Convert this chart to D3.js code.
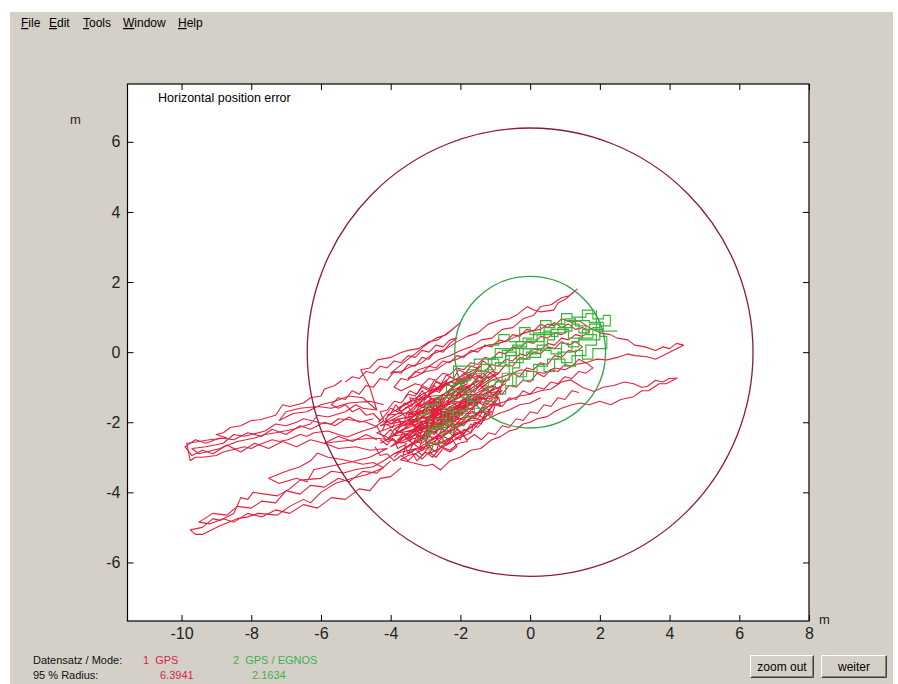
<!DOCTYPE html>
<html><head><meta charset="utf-8">
<script src="https://cdn.jsdelivr.net/npm/d3@7"></script>
<style>
html,body{margin:0;padding:0;background:#fff;}
svg{display:block;}
text{font-family:"Liberation Sans",Arial,sans-serif;}
</style></head>
<body>
<svg id="chart" width="898" height="684"></svg>
<script>
// ---------- data ----------
const menuItems = ["File","Edit","Tools","Window","Help"];
const xTicks = [-10,-8,-6,-4,-2,0,2,4,6,8];
const yTicks = [-6,-4,-2,0,2,4,6];
const title = "Horizontal position error";
const modes = ["1  GPS","2  GPS / EGNOS"];
const radii95 = [6.3941, 2.1634];

// GPS track pieces (metres east, metres north)
const gpsUpperLobe = [[-5.4,-0.8],[-5.6,-0.95],[-5.9,-1.05],[-6.0,-1.25],[-6.3,-1.3],[-6.5,-1.45],[-6.9,-1.55],[-7.1,-1.5],[-7.3,-1.8],[-7.75,-1.93],[-8.0,-1.95],[-8.3,-2.1],[-8.6,-2.15],[-8.8,-2.3],[-9.0,-2.35],[-8.7,-2.45],[-9.2,-2.5],[-9.5,-2.55],[-9.85,-2.6],[-9.8,-2.85],[-9.75,-3.1],[-9.6,-3.0],[-9.4,-3.0],[-9.0,-2.95],[-8.8,-2.85],[-8.6,-2.8],[-8.2,-2.7],[-8.0,-2.75],[-7.8,-2.65],[-7.4,-2.5],[-7.2,-2.55],[-6.95,-2.5],[-6.6,-2.35],[-6.4,-2.4],[-6.2,-2.3],[-5.8,-2.25],[-5.5,-2.35],[-5.25,-2.42],[-4.8,-2.25],[-4.4,-2.13],[-4.7,-2.0],[-5.0,-1.95],[-5.5,-1.9],[-5.7,-2.05],[-6.0,-2.02],[-6.5,-1.9],[-6.7,-2.0],[-7.0,-2.1],[-7.3,-2.05],[-7.6,-2.25],[-8.2,-2.4],[-8.5,-2.35],[-8.8,-2.6],[-9.3,-2.7],[-9.7,-2.75],[-9.5,-2.9],[-9.3,-2.85],[-8.9,-2.75],[-8.4,-2.55],[-7.9,-2.45],[-7.6,-2.35],[-7.3,-2.3],[-6.8,-2.2],[-6.3,-2.05],[-6.1,-1.8],[-5.8,-1.85],[-5.3,-1.7],[-5.0,-1.5],[-4.8,-1.6],[-4.4,-1.65],[-4.8,-1.3],[-5.2,-1.25],[-5.6,-1.4],[-6.0,-1.5],[-6.4,-1.7],[-6.8,-1.75],[-7.2,-1.95],[-7.0,-1.7],[-6.6,-1.6],[-6.1,-1.55],[-5.7,-1.6],[-5.2,-1.45],[-4.6,-1.4],[-4.2,-1.5]];

const gpsUpperLobe2 = [[-4.5,-1.9],[-4.9,-2.0],[-5.2,-1.85],[-5.6,-2.1],[-5.9,-2.0],[-6.3,-2.2],[-6.6,-2.1],[-7.0,-2.35],[-7.4,-2.2],[-7.7,-2.4],[-8.1,-2.3],[-8.5,-2.5],[-8.9,-2.45],[-9.3,-2.6],[-9.6,-2.5],[-9.9,-2.7],[-9.7,-2.95],[-9.4,-2.8],[-9.1,-2.9],[-8.7,-2.65],[-8.3,-2.85],[-7.9,-2.6],[-7.5,-2.75],[-7.1,-2.55],[-6.7,-2.7],[-6.3,-2.5],[-5.9,-2.6],[-5.5,-2.4],[-5.1,-2.55],[-4.7,-2.35],[-4.4,-2.5]];

const gpsLowerLobe = [[-3.9,-2.9],[-4.2,-3.1],[-4.5,-3.27],[-5.0,-3.35],[-5.35,-3.45],[-5.7,-3.4],[-6.0,-3.6],[-6.6,-3.65],[-6.9,-3.9],[-7.25,-4.1],[-7.6,-4.05],[-7.95,-4.0],[-8.1,-4.2],[-8.3,-4.15],[-8.5,-4.6],[-8.9,-4.8],[-9.1,-4.75],[-9.4,-5.0],[-9.75,-5.07],[-9.6,-5.2],[-9.4,-5.2],[-8.9,-4.95],[-8.4,-4.75],[-8.1,-4.7],[-7.8,-4.6],[-7.25,-4.65],[-6.9,-4.4],[-6.5,-4.2],[-6.3,-4.3],[-6.0,-4.0],[-5.6,-3.75],[-5.1,-3.6],[-4.7,-3.5],[-4.2,-3.3],[-4.5,-3.15],[-4.8,-3.2],[-5.35,-3.07],[-5.8,-3.0],[-6.1,-2.88],[-6.3,-3.1],[-6.6,-3.27],[-7.0,-3.4],[-7.5,-3.6],[-7.2,-3.75],[-6.7,-3.6],[-6.4,-3.7],[-6.2,-3.35],[-5.7,-3.25],[-5.2,-3.15],[-4.6,-3.0],[-4.1,-2.75],[-4.6,-2.8],[-5.0,-2.7],[-5.5,-2.75],[-5.9,-2.6],[-5.5,-2.55],[-5.0,-2.5],[-4.5,-2.45],[-4.0,-2.5]];

const gpsLowerLobe2 = [[-4.0,-3.1],[-4.4,-3.45],[-4.8,-3.4],[-5.2,-3.7],[-5.5,-3.6],[-5.9,-3.85],[-6.3,-3.8],[-6.6,-4.05],[-7.0,-3.95],[-7.3,-4.3],[-7.7,-4.25],[-8.0,-4.45],[-8.4,-4.4],[-8.7,-4.65],[-9.1,-4.6],[-9.5,-4.85],[-9.2,-4.9],[-8.8,-4.75],[-8.5,-4.85],[-8.1,-4.6],[-7.7,-4.7],[-7.3,-4.5],[-6.9,-4.6],[-6.5,-4.35],[-6.1,-4.45],[-5.7,-4.15],[-5.3,-4.2],[-4.9,-3.9],[-4.6,-3.95],[-4.3,-3.6],[-4.0,-3.55],[-3.7,-3.3]];

const gpsUpperBand = [[-4.4,-1.65],[-4.6,-1.0],[-4.86,-0.5],[-4.6,-0.45],[-4.38,-0.22],[-4.0,-0.15],[-3.72,-0.02],[-3.5,0.05],[-3.2,0.1],[-2.9,0.3],[-2.65,0.35],[-2.3,0.6],[-2.0,0.84],[-2.4,0.5],[-2.7,0.4],[-3.0,0.2],[-3.3,-0.05],[-3.5,-0.2],[-4.0,-0.6],[-3.7,-0.55],[-3.4,-0.4],[-3.1,-0.3],[-2.8,-0.05],[-2.4,0.1],[-2.09,0.3],[-1.8,0.45],[-1.5,0.55],[-1.2,0.8],[-0.85,0.92],[-0.6,0.95],[-0.4,1.05],[-0.08,1.3],[0.1,1.2],[0.3,1.15],[0.68,1.2],[0.8,1.4],[1.0,1.5],[1.35,1.8],[1.1,1.6],[0.9,1.55],[0.6,1.35],[0.3,1.3],[0.1,1.05],[-0.2,0.95],[-0.5,0.7],[-0.8,0.65],[-1.1,0.4],[-1.4,0.35],[-1.7,0.15],[-2.0,0.05],[-2.3,-0.1],[-2.6,-0.2],[-2.9,-0.4],[-3.2,-0.5],[-3.5,-0.75],[-3.3,-0.7],[-3.0,-0.55],[-2.7,-0.5],[-2.4,-0.3],[-2.1,-0.2],[-1.8,-0.05],[-1.5,0.1],[-1.2,0.2],[-0.9,0.25],[-0.6,0.35],[-0.3,0.5],[0.0,0.6],[0.3,0.65],[0.5,0.8],[0.7,0.75],[0.9,0.95],[1.2,0.85],[1.4,0.9],[1.7,0.7],[2.0,0.55],[2.3,0.5],[2.5,0.4],[2.8,0.35],[3.0,0.2],[3.3,0.15],[3.6,0.05],[3.8,0.15],[4.0,0.1],[4.2,0.25],[4.4,0.2],[4.1,0.05],[3.9,-0.05],[3.6,-0.2],[3.36,-0.13],[3.0,-0.1],[2.8,-0.05],[2.5,-0.15],[2.21,-0.22],[1.9,-0.2],[1.6,-0.3],[1.3,-0.35],[1.0,-0.5],[0.7,-0.45],[0.4,-0.6],[0.1,-0.55],[-0.27,-0.5],[-0.5,-0.6],[-0.8,-0.7],[-1.1,-0.8],[-1.4,-1.0]];

const gpsUpperBand2 = [[-5.3,-0.85],[-5.1,-0.7],[-4.9,-0.75],[-4.7,-0.55],[-4.5,-0.6],[-4.3,-0.4],[-4.1,-0.45],[-3.9,-0.25],[-3.7,-0.3],[-3.5,-0.1],[-3.3,-0.15],[-3.1,0.05],[-2.9,0.0],[-2.7,0.2],[-2.5,0.15],[-2.3,0.35],[-2.1,0.4],[-2.3,0.25],[-2.5,0.0],[-2.7,0.05],[-2.9,-0.2],[-3.1,-0.15],[-3.3,-0.4],[-3.5,-0.35],[-3.7,-0.6],[-3.9,-0.55],[-4.1,-0.8],[-4.3,-0.75],[-4.5,-1.0],[-4.7,-0.95],[-4.9,-1.2],[-5.1,-1.1],[-5.3,-1.35],[-5.5,-1.3],[-5.7,-1.5],[-5.5,-1.6],[-5.3,-1.5],[-5.1,-1.7],[-4.9,-1.6],[-4.7,-1.8],[-4.5,-1.75],[-4.3,-1.95]];

const gpsMidBand = [[-2.5,-1.0],[-2.3,-0.85],[-2.1,-0.9],[-1.9,-0.7],[-1.7,-0.75],[-1.5,-0.5],[-1.3,-0.55],[-1.1,-0.35],[-0.9,-0.4],[-0.7,-0.2],[-0.5,-0.25],[-0.3,-0.05],[-0.1,-0.1],[0.1,0.1],[0.3,0.05],[0.5,0.25],[0.7,0.2],[0.9,0.4],[1.1,0.35],[1.3,0.5],[1.5,0.45],[1.7,0.6],[1.5,0.7],[1.3,0.65],[1.1,0.8],[0.9,0.7],[0.7,0.85],[0.5,0.7],[0.3,0.8],[0.1,0.6],[-0.1,0.65],[-0.3,0.45],[-0.5,0.5],[-0.7,0.3],[-0.9,0.35],[-1.1,0.15],[-1.3,0.2],[-1.5,0.0],[-1.7,0.05],[-1.9,-0.15],[-2.1,-0.1],[-2.3,-0.3],[-2.5,-0.25],[-2.7,-0.45],[-2.9,-0.4],[-3.1,-0.6],[-3.3,-0.55],[-3.5,-0.8],[-3.7,-0.75],[-3.9,-1.0],[-3.7,-1.1],[-3.5,-1.0],[-3.3,-0.9],[-3.1,-0.95],[-2.9,-0.75],[-2.7,-0.8],[-2.5,-0.6],[-2.3,-0.65],[-2.1,-0.45],[-1.9,-0.5],[-1.7,-0.3],[-1.5,-0.35],[-1.3,-0.15],[-1.1,-0.2],[-0.9,0.0],[-0.7,-0.05],[-0.5,0.15],[-0.3,0.1],[-0.1,0.3],[0.1,0.25],[0.3,0.45],[0.5,0.4],[0.7,0.55],[0.9,0.5],[1.1,0.6]];

const gpsMidBand2 = [[-1.5,-1.1],[-1.3,-0.95],[-1.1,-1.0],[-0.9,-0.8],[-0.7,-0.85],[-0.5,-0.6],[-0.3,-0.7],[-0.1,-0.45],[0.1,-0.5],[0.3,-0.3],[0.5,-0.35],[0.7,-0.1],[0.9,-0.15],[1.1,0.05],[1.3,0.0],[1.5,0.15],[1.3,0.3],[1.1,0.2],[0.9,0.3],[0.7,0.1],[0.5,0.15],[0.3,-0.05],[0.1,0.0],[-0.1,-0.2],[-0.3,-0.15],[-0.5,-0.4],[-0.7,-0.35],[-0.9,-0.6],[-1.1,-0.55],[-1.3,-0.75],[-1.5,-0.7],[-1.7,-0.95],[-1.9,-1.0],[-2.1,-1.2]];

const gpsLowerBand = [[-1.4,-1.6],[-1.0,-1.5],[-0.7,-1.4],[-0.3,-1.25],[0.0,-1.2],[0.3,-1.1],[0.6,-1.05],[0.9,-0.85],[1.16,-0.79],[1.5,-1.0],[1.83,-1.12],[2.1,-1.0],[2.4,-0.95],[2.7,-0.85],[2.97,-0.9],[3.2,-1.0],[3.36,-0.98],[3.6,-0.8],[3.8,-0.85],[4.0,-0.75],[4.22,-0.74],[3.9,-0.9],[3.7,-0.9],[3.4,-1.1],[3.2,-1.1],[2.97,-1.27],[2.6,-1.35],[2.31,-1.5],[2.0,-1.4],[1.7,-1.5],[1.45,-1.45],[1.2,-1.5],[0.9,-1.6],[0.7,-1.7],[0.49,-1.84],[0.2,-1.9],[0.0,-2.0],[-0.2,-2.05],[-0.4,-2.2],[-0.6,-2.25],[-0.85,-2.41],[-1.1,-2.5],[-1.42,-2.75],[-1.7,-2.8],[-2.0,-3.0],[-2.3,-3.1],[-2.57,-3.36],[-2.8,-3.2],[-3.0,-3.25],[-3.4,-3.15],[-3.72,-3.07],[-3.5,-2.95],[-3.3,-2.9],[-3.0,-2.75],[-2.7,-2.6],[-2.4,-2.55],[-2.1,-2.3],[-1.8,-2.2],[-1.5,-2.0],[-1.2,-1.9],[-0.9,-1.75],[-0.6,-1.65],[-0.3,-1.5],[0.0,-1.45],[0.3,-1.3]];

const gpsLowerBand2 = [[-2.0,-1.6],[-1.8,-1.45],[-1.6,-1.55],[-1.4,-1.3],[-1.2,-1.4],[-1.0,-1.15],[-0.8,-1.2],[-0.6,-0.95],[-0.4,-1.0],[-0.2,-0.8],[0.0,-0.85],[0.2,-0.6],[0.4,-0.7],[0.6,-0.5],[0.8,-0.55],[1.0,-0.35],[1.2,-0.4],[1.4,-0.2],[1.6,-0.3],[1.8,-0.45],[1.6,-0.6],[1.4,-0.55],[1.2,-0.75],[1.0,-0.7],[0.8,-0.9],[0.6,-0.85],[0.4,-1.05],[0.2,-1.0],[0.0,-1.2],[-0.2,-1.1],[-0.4,-1.35],[-0.6,-1.3],[-0.8,-1.55],[-1.0,-1.45],[-1.2,-1.7],[-1.4,-1.65],[-1.6,-1.9],[-1.8,-1.8],[-2.0,-2.05],[-2.2,-1.95],[-2.4,-2.2],[-2.2,-2.4],[-2.0,-2.3],[-1.8,-2.5],[-1.6,-2.35],[-1.4,-2.5],[-1.2,-2.3],[-1.0,-2.35],[-0.8,-2.1],[-0.6,-2.15],[-0.4,-1.9],[-0.2,-1.95],[0.0,-1.7],[0.2,-1.75],[0.4,-1.5],[0.6,-1.55],[0.8,-1.3],[1.0,-1.35],[1.2,-1.1],[1.4,-1.15]];

const gpsCore = [[-4.3,-2.6],[-3.6,-2.2],[-2.9,-1.9],[-2.0,-1.4],[-1.2,-1.0],[-1.6,-1.3],[-2.5,-1.7],[-3.3,-1.95],[-3.9,-2.2],[-3.0,-1.6],[-2.1,-1.1],[-1.4,-0.8],[-0.9,-0.6],[-1.5,-1.0],[-2.4,-1.5],[-3.0,-2.0],[-3.6,-2.5],[-2.9,-2.2],[-2.1,-1.8],[-1.5,-1.5],[-2.2,-1.4],[-3.1,-1.75],[-3.7,-1.9],[-4.2,-2.0],[-3.4,-1.5],[-2.7,-1.1],[-2.0,-0.7],[-2.6,-1.0],[-3.0,-1.3],[-3.5,-1.8],[-3.2,-2.3],[-3.5,-2.9],[-2.8,-2.5],[-2.0,-2.1],[-1.4,-1.7],[-1.0,-1.4],[-1.7,-1.45],[-2.5,-1.8],[-3.3,-2.15],[-3.8,-1.6],[-3.1,-1.2],[-2.3,-0.85],[-1.4,-0.4],[-1.9,-0.8],[-2.7,-1.35],[-3.2,-2.8],[-2.5,-2.4],[-1.7,-1.9],[-0.8,-1.1],[-1.4,-1.2],[-2.2,-1.6],[-3.0,-2.1],[-3.6,-2.35],[-4.0,-2.4],[-3.3,-2.0],[-2.7,-1.6],[-2.2,-1.0],[-2.6,-1.5],[-3.0,-2.6],[-2.4,-2.2],[-1.8,-1.6],[-1.3,-1.9],[-2.0,-2.0],[-2.9,-2.3],[-3.7,-2.6],[-4.4,-2.3],[-3.6,-2.0],[-2.8,-1.5],[-1.8,-0.9],[-2.5,-1.2],[-3.4,-2.0],[-2.6,-1.9],[-1.9,-1.5],[-0.7,-0.9],[-1.5,-1.3],[-2.6,-2.1],[-3.7,-2.8],[-3.0,-2.45],[-2.5,-1.2],[-3.3,-1.7],[-4.1,-1.8],[-3.4,-1.4],[-2.8,-1.25],[-1.6,-1.2],[-2.3,-1.75],[-2.9,-2.9],[-2.3,-2.6],[-1.1,-1.7],[-1.8,-1.75],[-3.3,-1.5],[-2.6,-1.45],[-2.0,-2.3],[-2.6,-2.6],[-3.9,-2.9],[-3.1,-2.5],[-1.9,-1.7],[-2.7,-1.8],[-4.3,-2.1],[-3.5,-1.7],[-2.4,-0.8],[-2.9,-1.2],[-2.6,-2.7],[-1.7,-2.3],[-0.9,-1.3],[-1.8,-1.35],[-3.5,-1.8],[-2.6,-1.3],[-1.7,-0.6],[-2.2,-1.2],[-3.1,-2.4],[-2.3,-1.6],[-3.8,-2.5],[-2.7,-2.0],[-1.4,-1.3],[-2.8,-2.2],[-1.2,-0.7],[-2.0,-1.25],[-3.6,-2.1],[-2.1,-1.3],[-3.0,-1.8],[-1.5,-0.8],[-4.0,-2.7],[-3.3,-2.35],[-2.7,-1.6],[-3.3,-2.6],[-2.1,-1.7],[-1.0,-1.0],[-2.5,-2.4],[-1.6,-1.8],[-3.7,-2.3],[-2.2,-1.9],[-2.9,-1.4],[-2.0,-1.9],[-3.4,-2.3]];

const gpsCore2 = [[-4.2,-2.4],[-4.0,-2.2],[-3.9,-2.35],[-3.7,-2.1],[-3.75,-1.9],[-3.5,-1.85],[-3.3,-1.95],[-3.2,-1.7],[-3.0,-1.75],[-2.85,-1.55],[-2.95,-1.4],[-2.7,-1.3],[-2.5,-1.45],[-2.35,-1.2],[-2.1,-1.25],[-2.0,-1.05],[-1.8,-1.1],[-1.65,-0.9],[-1.5,-1.0],[-1.3,-0.8],[-1.45,-0.65],[-1.7,-0.75],[-1.9,-0.6],[-2.1,-0.8],[-2.3,-0.7],[-2.5,-0.95],[-2.7,-0.85],[-2.9,-1.1],[-3.1,-1.0],[-3.3,-1.25],[-3.5,-1.2],[-3.7,-1.45],[-3.9,-1.4],[-4.1,-1.65],[-4.3,-1.7],[-4.2,-1.95],[-4.4,-2.1],[-4.3,-2.3],[-4.1,-2.55],[-3.9,-2.5],[-3.8,-2.75],[-3.6,-2.65],[-3.5,-2.9],[-3.3,-2.75],[-3.1,-2.95],[-2.9,-2.7],[-2.7,-2.85],[-2.6,-2.55],[-2.4,-2.65],[-2.2,-2.4],[-2.0,-2.5],[-1.9,-2.2],[-1.7,-2.3],[-1.6,-2.0],[-1.4,-2.05],[-1.3,-1.75],[-1.1,-1.8],[-1.0,-1.5],[-0.85,-1.55],[-0.9,-1.3],[-1.1,-1.2],[-1.3,-1.35],[-1.5,-1.25],[-1.7,-1.5],[-1.9,-1.4],[-2.1,-1.65],[-2.3,-1.55],[-2.5,-1.8],[-2.7,-1.7],[-2.9,-1.95],[-3.1,-1.85],[-3.3,-2.1],[-3.5,-2.05],[-3.7,-2.3],[-3.9,-2.2],[-4.05,-2.45]];

const gpsCore3 = [[-3.6,-1.6],[-3.4,-1.5],[-3.45,-1.3],[-3.2,-1.35],[-3.0,-1.2],[-3.05,-1.45],[-2.8,-1.5],[-2.75,-1.7],[-2.55,-1.65],[-2.6,-1.95],[-2.35,-1.9],[-2.4,-2.15],[-2.15,-2.1],[-2.2,-2.35],[-1.95,-2.3],[-1.8,-2.55],[-2.05,-2.6],[-2.3,-2.8],[-2.55,-2.7],[-2.8,-3.0],[-3.0,-2.85],[-3.25,-3.1],[-3.4,-2.85],[-3.65,-2.95],[-3.55,-2.6],[-3.8,-2.55],[-3.65,-2.3],[-3.45,-2.4],[-3.35,-2.2],[-3.15,-2.3],[-3.05,-2.1],[-2.85,-2.2],[-2.75,-2.0],[-2.55,-2.1],[-2.45,-1.85],[-2.25,-1.95],[-2.15,-1.7],[-1.95,-1.8],[-1.85,-1.55],[-1.65,-1.65],[-1.55,-1.4],[-1.35,-1.5],[-1.2,-1.25],[-1.0,-1.3],[-0.9,-1.05],[-1.1,-0.95],[-1.25,-1.1],[-1.45,-0.95],[-1.6,-1.15],[-1.8,-1.0],[-1.95,-1.25],[-2.15,-1.1],[-2.3,-1.35],[-2.5,-1.2],[-2.6,-1.45],[-2.85,-1.3],[-2.95,-1.6],[-3.2,-1.55],[-3.3,-1.8],[-3.55,-1.75],[-3.6,-2.0],[-3.85,-1.95],[-3.95,-2.15],[-4.15,-2.05],[-4.25,-2.25]];

const gpsCore4 = [[-3.9,-3.0],[-3.7,-2.8],[-3.5,-2.7],[-3.3,-2.55],[-3.1,-2.6],[-2.9,-2.4],[-2.7,-2.45],[-2.5,-2.25],[-2.3,-2.3],[-2.1,-2.05],[-1.9,-2.1],[-1.7,-1.85],[-1.5,-1.9],[-1.3,-1.6],[-1.15,-1.65],[-1.3,-1.9],[-1.5,-2.15],[-1.7,-2.05],[-1.9,-2.35],[-2.1,-2.2],[-2.3,-2.5],[-2.5,-2.4],[-2.7,-2.65],[-2.9,-2.55],[-3.1,-2.8],[-3.3,-2.65],[-3.5,-2.5],[-3.3,-2.35],[-3.1,-2.45],[-2.9,-2.25],[-2.7,-2.3],[-2.5,-2.05],[-2.3,-2.1],[-2.1,-1.85],[-1.9,-1.95],[-1.7,-1.7],[-1.5,-1.75],[-1.3,-1.45],[-1.1,-1.5],[-0.9,-1.2],[-0.8,-0.9],[-1.0,-0.7],[-1.2,-0.55],[-1.4,-0.75],[-1.6,-0.6],[-1.8,-0.85],[-2.0,-0.75],[-2.2,-1.0],[-2.4,-0.9],[-2.6,-1.15],[-2.8,-1.05],[-3.0,-1.35],[-3.2,-1.25],[-3.4,-1.55],[-3.6,-1.45],[-3.8,-1.7],[-4.0,-1.6],[-4.2,-1.85],[-4.35,-2.0]];

const gpsCore5 = [[-4.3,-2.5],[-4.1,-2.65],[-3.95,-2.45],[-3.8,-2.6],[-3.6,-2.4],[-3.45,-2.55],[-3.3,-2.3],[-3.1,-2.45],[-2.95,-2.2],[-2.75,-2.35],[-2.6,-2.1],[-2.45,-2.25],[-2.3,-2.0],[-2.45,-1.8],[-2.65,-1.95],[-2.8,-1.75],[-3.0,-1.9],[-3.15,-1.65],[-3.35,-1.8],[-3.5,-1.55],[-3.7,-1.7],[-3.85,-1.5],[-4.0,-1.75],[-4.15,-1.9],[-4.0,-2.05],[-3.8,-1.9],[-3.65,-2.1],[-3.45,-1.95],[-3.3,-2.15],[-3.1,-2.0],[-2.95,-2.25],[-2.8,-2.5],[-2.6,-2.35],[-2.45,-2.6],[-2.25,-2.45],[-2.1,-2.7],[-2.3,-2.85],[-2.5,-2.75],[-2.7,-3.0],[-2.9,-2.85],[-3.1,-3.05],[-3.3,-2.9],[-3.5,-3.1],[-3.7,-2.95],[-3.9,-3.1],[-4.1,-2.9],[-4.3,-2.95],[-4.45,-2.7]];

const gpsCore6 = [[-3.6,-1.3],[-3.45,-1.1],[-3.25,-1.2],[-3.1,-0.95],[-2.9,-1.05],[-2.75,-0.8],[-2.55,-0.9],[-2.4,-0.65],[-2.2,-0.75],[-2.05,-0.5],[-1.85,-0.6],[-1.7,-0.4],[-1.5,-0.45],[-1.35,-0.25],[-1.15,-0.4],[-1.0,-0.6],[-1.2,-0.75],[-1.35,-0.6],[-1.55,-0.8],[-1.7,-0.65],[-1.9,-0.9],[-2.05,-0.75],[-2.25,-1.0],[-2.4,-0.85],[-2.6,-1.1],[-2.75,-0.95],[-2.95,-1.25],[-3.1,-1.1],[-3.3,-1.4],[-3.15,-1.55],[-2.95,-1.4],[-2.8,-1.6],[-2.6,-1.4],[-2.45,-1.6],[-2.25,-1.4],[-2.1,-1.55],[-1.9,-1.3],[-1.75,-1.45],[-1.55,-1.2],[-1.4,-1.35],[-1.2,-1.1],[-1.05,-1.25],[-0.85,-1.0],[-0.7,-0.75]];

// GPS/EGNOS track (drawn as step lines)
const egnosTrack = [[-3.3,-2.5],[-3.0,-2.3],[-2.8,-2.15],[-2.5,-2.0],[-2.3,-1.8],[-2.0,-1.65],[-1.8,-1.4],[-1.5,-1.25],[-1.3,-1.0],[-1.0,-0.85],[-0.8,-0.6],[-0.5,-0.45],[-0.3,-0.2],[0.0,-0.05],[0.2,0.2],[0.5,0.35],[0.7,0.55],[1.0,0.7],[1.2,0.9],[1.5,1.0],[1.6,1.1],[1.9,1.2],[1.9,0.6],[2.5,0.6],[2.0,0.35],[1.4,0.3],[1.2,0.0],[0.8,-0.2],[0.5,-0.4],[0.2,-0.55],[-0.1,-0.7],[-0.4,-0.95],[-0.7,-1.2],[-1.0,-1.4],[-1.3,-1.6],[-1.6,-1.85],[-1.9,-2.1],[-2.2,-2.3],[-2.5,-2.6],[-2.8,-2.8],[-2.9,-1.5],[-2.6,-1.3],[-2.3,-1.1],[-2.0,-0.8],[-1.7,-0.6],[-1.4,-0.35],[-1.1,-0.15],[-0.8,0.05],[-0.5,0.2],[-0.2,0.4],[0.1,0.55],[0.4,0.7],[0.7,0.8],[1.0,0.95],[1.3,0.75],[1.6,0.5],[1.9,0.2],[1.6,-0.1],[1.2,-0.3],[0.9,0.1],[0.5,0.2],[0.2,0.0],[-0.1,-0.2],[-0.4,0.0],[-0.7,-0.3],[-1.0,-0.5],[-1.3,-0.8],[-1.6,-1.1],[-1.9,-1.3],[-2.2,-1.6],[-2.5,-1.9],[-2.7,-2.1],[-2.2,-0.4],[-1.6,-0.2],[-1.0,0.1],[-0.4,0.3],[0.2,0.5],[0.6,0.65],[1.1,0.4],[1.5,0.65],[2.1,0.85],[1.7,0.9],[1.0,0.55],[0.4,0.1],[-0.2,-0.3],[-0.6,-0.8],[-1.2,-1.25],[-1.8,-1.7],[-2.4,-2.2],[-3.0,-2.6]];
const egnosTrack2 = [[-1.0,-0.3],[-0.7,-0.1],[-0.4,0.15],[-0.1,0.35],[0.2,0.3],[0.4,0.6],[0.6,0.45],[0.8,0.7],[1.0,0.6],[1.2,0.8],[1.4,0.55],[1.7,0.8],[2.0,0.7],[1.8,0.4],[1.4,0.15],[1.1,0.25],[0.9,-0.05],[0.6,0.05],[0.3,-0.15],[0.0,0.1],[-0.3,-0.1],[-0.6,-0.4],[-0.9,-0.2],[-1.2,-0.55],[-1.5,-0.5],[-1.8,-0.85],[-2.1,-0.95],[-2.4,-1.3],[-2.7,-1.5],[-3.0,-1.8],[-3.2,-2.0]];
const egnosTrack3 = [[-1.2,0.2],[-0.9,0.5],[-0.6,0.3],[-0.3,0.7],[0.0,0.5],[0.3,0.9],[0.6,0.8],[0.9,1.1],[1.2,1.0],[1.5,1.2],[1.8,0.95],[2.1,1.05],[2.3,0.75],[2.0,0.45],[2.2,0.1],[1.8,-0.2],[1.5,0.05],[1.3,-0.4],[1.0,-0.2],[0.7,-0.55],[0.4,-0.35],[0.1,-0.8],[-0.2,-0.6],[-0.5,-1.0]];

const gpsTracks = [gpsUpperLobe, gpsUpperLobe2, gpsLowerLobe, gpsLowerLobe2, gpsUpperBand, gpsUpperBand2,
  gpsMidBand, gpsMidBand2, gpsLowerBand, gpsLowerBand2, gpsCore, gpsCore2, gpsCore3, gpsCore4, gpsCore5, gpsCore6];
const egnosTracks = [egnosTrack, egnosTrack2, egnosTrack3];

// ---------- layout ----------
const svg = d3.select("#chart");
const W = 898, H = 684;
const plot = {left:127.5, top:84, right:809, bottom:621};
const x = d3.scaleLinear().domain([-11.55, 8]).range([plot.left, plot.right]);
const y = d3.scaleLinear().domain([-7.67, 7.65]).range([plot.bottom, plot.top]);

svg.append("rect").attr("x",0).attr("y",0).attr("width",W).attr("height",H).attr("fill","#fff");
svg.append("rect").attr("x",10).attr("y",12).attr("width",W-15).attr("height",H-12).attr("fill","#d4d0c8");

// menu
const menuX = [21, 49, 83, 123, 178];
menuItems.forEach((m,i)=>{
  const t = svg.append("text").attr("x",menuX[i]).attr("y",27).attr("font-size",12).attr("fill","#000");
  t.append("tspan").attr("text-decoration","underline").text(m[0]);
  t.append("tspan").text(m.slice(1));
});

// plot area
svg.append("rect").attr("x",plot.left).attr("y",plot.top)
  .attr("width",plot.right-plot.left).attr("height",plot.bottom-plot.top).attr("fill","#fff");

svg.append("defs").append("clipPath").attr("id","clip")
  .append("rect").attr("x",plot.left).attr("y",plot.top)
  .attr("width",plot.right-plot.left).attr("height",plot.bottom-plot.top);

const g = svg.append("g").attr("clip-path","url(#clip)");
const line = d3.line().x(d=>x(d[0])).y(d=>y(d[1]));
const stepLine = d3.line().x(d=>x(d[0])).y(d=>y(d[1])).curve(d3.curveStepAfter);

gpsTracks.forEach(arr=>{
  g.append("path").datum(arr).attr("d",line).attr("fill","none")
   .attr("stroke","#e3203e").attr("stroke-width",1.1).attr("stroke-linejoin","round");
});
egnosTracks.forEach(arr=>{
  g.append("path").datum(arr).attr("d",stepLine).attr("fill","none")
   .attr("stroke","#34b534").attr("stroke-width",1.1);
});

// 95% circles
const circColors = ["#8c1c36","#2ea24a"];
radii95.forEach((r,i)=>{
  g.append("ellipse").attr("cx",x(0)).attr("cy",y(0))
   .attr("rx",x(r)-x(0)).attr("ry",y(0)-y(r))
   .attr("fill","none").attr("stroke",circColors[i]).attr("stroke-width",1.3);
});

// axes (ticks inward on all four sides)
const fmt = d3.format("d");
const axB = svg.append("g").attr("transform",`translate(0,${plot.bottom})`)
  .call(d3.axisBottom(x).tickValues(xTicks).tickSizeInner(-6).tickSizeOuter(0).tickPadding(7).tickFormat(fmt));
const axT = svg.append("g").attr("transform",`translate(0,${plot.top})`)
  .call(d3.axisTop(x).tickValues(xTicks).tickSizeInner(-6).tickSizeOuter(0).tickFormat(""));
const axL = svg.append("g").attr("transform",`translate(${plot.left},0)`)
  .call(d3.axisLeft(y).tickValues(yTicks).tickSizeInner(-6).tickSizeOuter(0).tickPadding(7).tickFormat(fmt));
const axR = svg.append("g").attr("transform",`translate(${plot.right},0)`)
  .call(d3.axisRight(y).tickValues(yTicks).tickSizeInner(-6).tickSizeOuter(0).tickFormat(""));
[axB,axT,axL,axR].forEach(a=>{
  a.select(".domain").remove();
  a.selectAll("line").attr("stroke","#000");
  a.selectAll("text").attr("font-family","Liberation Sans, Arial, sans-serif").attr("font-size",16).attr("fill","#222");
});
axB.selectAll("text").text(d=>String(d));
axL.selectAll("text").text(d=>String(d));

svg.append("rect").attr("x",plot.left).attr("y",plot.top)
  .attr("width",plot.right-plot.left).attr("height",plot.bottom-plot.top)
  .attr("fill","none").attr("stroke","#000").attr("stroke-width",1.2);

// title and axis units
svg.append("text").attr("x",158).attr("y",102).attr("font-size",12.5).attr("fill","#000").text(title);
svg.append("text").attr("x",70).attr("y",124).attr("font-size",13).attr("fill","#222").text("m");
svg.append("text").attr("x",819).attr("y",624).attr("font-size",13).attr("fill","#222").text("m");

// bottom info
const info = svg.append("g").attr("font-size",11);
info.append("text").attr("x",33).attr("y",664).attr("fill","#111").text("Datensatz / Mode:");
info.append("text").attr("x",33).attr("y",679).attr("fill","#111").text("95 % Radius:");
info.append("text").attr("x",143).attr("y",664).attr("fill","#e0204a").style("white-space","pre").text(modes[0]);
info.append("text").attr("x",233).attr("y",664).attr("fill","#3eb04e").style("white-space","pre").text(modes[1]);
info.append("text").attr("x",160).attr("y",679).attr("fill","#e0204a").text(radii95[0].toFixed(4));
info.append("text").attr("x",252).attr("y",679).attr("fill","#3eb04e").text(radii95[1].toFixed(4));

// buttons
const buttons = [{label:"zoom out", x0:750, x1:814},{label:"weiter", x0:821, x1:887}];
buttons.forEach(b=>{
  const bg = svg.append("g");
  const y0 = 655, y1 = 678;
  bg.append("rect").attr("x",b.x0).attr("y",y0).attr("width",b.x1-b.x0).attr("height",y1-y0).attr("fill","#d4d0c8");
  bg.append("path").attr("d",`M${b.x0+0.5},${y1-0.5}V${y0+0.5}H${b.x1-0.5}`).attr("fill","none").attr("stroke","#fff");
  bg.append("path").attr("d",`M${b.x0+0.5},${y1-0.5}H${b.x1-0.5}V${y0+0.5}`).attr("fill","none").attr("stroke","#404040");
  bg.append("path").attr("d",`M${b.x0+1.5},${y1-1.5}H${b.x1-1.5}V${y0+1.5}`).attr("fill","none").attr("stroke","#808080");
  bg.append("text").attr("x",(b.x0+b.x1)/2).attr("y",671).attr("text-anchor","middle").attr("font-size",12).attr("fill","#000").text(b.label);
});
</script>
</body></html>
